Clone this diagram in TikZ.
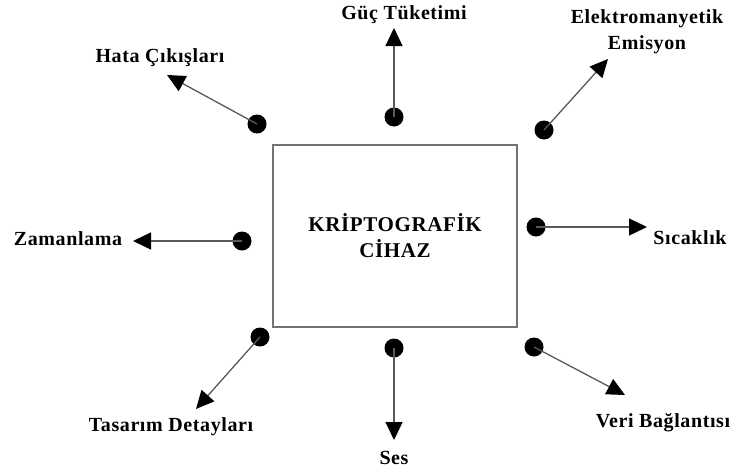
\documentclass[tikz,border=0pt]{standalone}
\usepackage{fontspec}
\setmainfont{Liberation Serif}[LetterSpace=3]
\usetikzlibrary{arrows.meta}
\begin{document}
\begin{tikzpicture}[x=1pt,y=-1pt,
  lbl/.style={font=\fontsize{20}{26}\selectfont\bfseries, text=black, inner sep=0pt, align=center},
  dot/.style={circle, fill=black, minimum size=19pt, inner sep=0pt},
  ray/.style={draw=black!65, line width=1.3pt, -{Triangle[length=18pt,width=17pt,fill=black,color=black]}},
  devbox/.style={draw=black!55, line width=1.5pt, fill=white}
]
\useasboundingbox (0,0) rectangle (735,472);

% central device
\node[devbox, minimum width=244pt, minimum height=182pt, font=\fontsize{21}{26}\selectfont\bfseries, align=center]
  (dev) at (395,236) {KRİPTOGRAFİK\\CİHAZ};

% contact points around the device
\node[dot] (dHata) at (257,124) {};
\node[dot] (dGuc)  at (394,117) {};
\node[dot] (dEm)   at (544,130) {};
\node[dot] (dZam)  at (242,241) {};
\node[dot] (dSic)  at (536,227) {};
\node[dot] (dTas)  at (260,337) {};
\node[dot] (dSes)  at (394,348) {};
\node[dot] (dVeri) at (534,347) {};

% arrow tips
\coordinate (tHata) at (167,75);
\coordinate (tGuc)  at (394,28);
\coordinate (tEm)   at (608,59);
\coordinate (tZam)  at (133,241);
\coordinate (tSic)  at (647,227);
\coordinate (tTas)  at (196,409);
\coordinate (tSes)  at (394,440);
\coordinate (tVeri) at (625,395);

% labels
\node[lbl] (lHata) at (160,58)  {Hata Çıkışları};
\node[lbl] (lGuc)  at (404,15)  {Güç Tüketimi};
\node[lbl] (lEm)   at (647,32)  {Elektromanyetik\\Emisyon};
\node[lbl] (lZam)  at (68,239)  {Zamanlama};
\node[lbl] (lSic)  at (690,238) {Sıcaklık};
\node[lbl] (lTas)  at (171,427) {Tasarım Detayları};
\node[lbl] (lSes)  at (394,458) {Ses};
\node[lbl] (lVeri) at (663,423) {Veri Bağlantısı};

% emanation arrows
\foreach \n in {Hata,Guc,Em,Zam,Sic,Tas,Ses,Veri}
  \draw[ray] (d\n.center) -- (t\n);
\end{tikzpicture}
\end{document}
